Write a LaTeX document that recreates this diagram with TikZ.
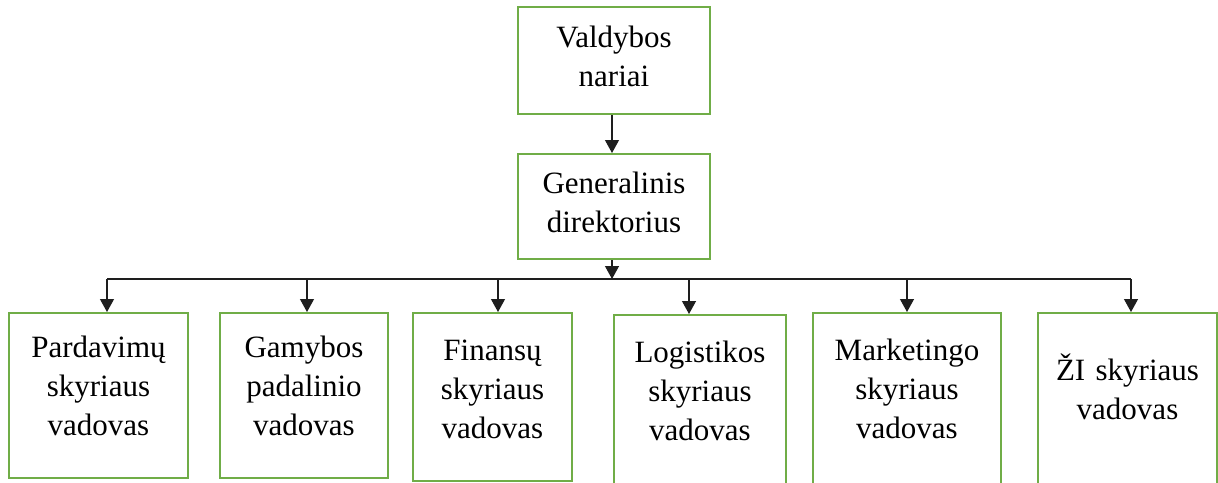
\documentclass[tikz,border=0pt]{standalone}
\usepackage{fontspec}
\setmainfont{Liberation Serif}
\usetikzlibrary{arrows.meta}
\definecolor{boxgreen}{RGB}{112,173,71}
\definecolor{linegray}{RGB}{30,30,30}

\begin{document}
\begin{tikzpicture}[x=1pt,y=-1pt,
  box/.style={draw=boxgreen, line width=2pt, inner sep=0pt},
  lbl/.style={text width=160pt, align=center, inner sep=0pt, anchor=base,
              font=\fontsize{31}{39}\selectfont},
  conn/.style={draw=linegray, line width=1.2pt},
  arr/.style={conn, -{Triangle[width=14pt,length=13pt]}}]

\useasboundingbox (0,0) rectangle (1218,482);
\clip (0,0) rectangle (1218,482);

% boxes
\node[box, minimum width=192pt, minimum height=107pt] (board) at (614,60.5) {};
\node[box, minimum width=192pt, minimum height=105pt] (ceo)   at (614,206.5) {};
\node[box, minimum width=179pt, minimum height=165pt] (sales) at (98.5,395.5) {};
\node[box, minimum width=168pt, minimum height=165pt] (prod)  at (304,395.5) {};
\node[box, minimum width=159pt, minimum height=168pt] (fin)   at (492.5,397) {};
\node[box, minimum width=172pt, minimum height=180pt] (log)   at (700,405) {};
\node[box, minimum width=188pt, minimum height=182pt] (mkt)   at (907,404) {};
\node[box, minimum width=179pt, minimum height=182pt] (hr)    at (1127.5,404) {};

% labels
\node[lbl] (tboard) at (614,47)    {Valdybos\\nariai};
\node[lbl] (tceo)   at (614,193)   {Generalinis\\direktorius};
\node[lbl] (tsales) at (98.5,357)  {Pardavimų\\skyriaus\\vadovas};
\node[lbl] (tprod)  at (304,357)   {Gamybos\\padalinio\\vadovas};
\node[lbl] (tfin)   at (492.5,360) {Finansų\\skyriaus\\vadovas};
\node[lbl] (tlog)   at (700,362)   {Logistikos\\skyriaus\\vadovas};
\node[lbl] (tmkt)   at (907,360)   {Marketingo\\skyriaus\\vadovas};
\node[lbl] (thr)    at (1127.5,380){ŽI skyriaus\\vadovas};

% bus line and its drop points
\coordinate (bus) at (612,279);
\coordinate (d1) at (107,279);
\coordinate (d2) at (307,279);
\coordinate (d3) at (498,279);
\coordinate (d4) at (689,279);
\coordinate (d5) at (907,279);
\coordinate (d6) at (1131,279);

\draw[arr] (board.south -| bus) -- (ceo.north -| bus);
\draw[arr] (ceo.south -| bus) -- (bus);
\draw[conn] (d1) -- (d6);

\draw[arr] (d1) -- (d1 |- sales.north);
\draw[arr] (d2) -- (d2 |- prod.north);
\draw[arr] (d3) -- (d3 |- fin.north);
\draw[arr] (d4) -- (d4 |- log.north);
\draw[arr] (d5) -- (d5 |- mkt.north);
\draw[arr] (d6) -- (d6 |- hr.north);
\end{tikzpicture}
\end{document}
